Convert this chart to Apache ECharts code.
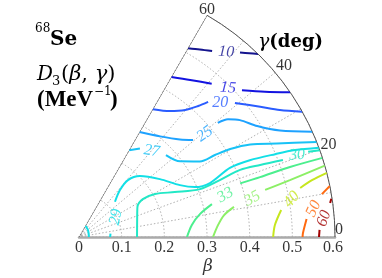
<!DOCTYPE html>
<html><head><meta charset="utf-8">
<script src="https://cdn.jsdelivr.net/npm/echarts@6/dist/echarts.min.js"></script>
<style>html,body{margin:0;padding:0;background:#fff}#c{width:382px;height:278px}</style>
</head><body><div id="c"></div>
<script>
// ---- data: beta / gamma(deg) ----
const BETA_TICKS = [0, 0.1, 0.2, 0.3, 0.4, 0.5, 0.6];
const GAMMA_TICKS = [0, 20, 40, 60];
const BETA_MAX = 0.6, GAMMA_MAX = 60;

// contour pieces: [beta, gamma]
const C10 = [[[0.511,60],[0.523,57.2],[0.536,54.4]], [[0.574,48.9],[0.587,47.2],[0.600,45.6]]];
const C15 = [[[0.433,60],[0.451,54.7],[0.475,49.1]], [[0.514,42.0],[0.553,38.0],[0.600,34.4]]];
const C20 = [[[0.346,60],[0.364,54.2],[0.388,50.1],[0.415,47.7],[0.438,46.3]], [[0.482,40.7],[0.523,35.7],[0.557,32.3],[0.600,29.3]]];
const C25 = [[[0.284,60],[0.303,51.1],[0.329,44.0],[0.351,40.4]], [[0.421,39.4],[0.445,38.3],[0.466,36.0],[0.492,31.9],[0.533,27.9],[0.600,24.3]]];
const C27 = [[[0.235,60],[0.252,55.5]], [[0.280,43.3],[0.296,36.8],[0.334,32.0],[0.372,31.1],[0.410,30.2],[0.456,28.4],[0.513,25.3],[0.600,21.8]]];
const C29 = [[[0.030,60],[0.027,40],[0.024,20],[0.023,0]], [[0.073,0],[0.0742,6.0]], [[0.118,44.4],[0.146,48.9],[0.176,49.3],[0.202,45.0],[0.233,35.6],[0.266,27.2],[0.296,23.3],[0.332,22.4],[0.389,24.6],[0.439,24.2],[0.499,22.9],[0.546,21.9],[0.600,20.4]]];
const C30 = [[[0.136,0],[0.142,16.3],[0.154,27.2],[0.174,30.7],[0.205,29.5],[0.248,25.1],[0.305,21.6],[0.356,22.0],[0.409,22.6],[0.457,21.7],[0.511,20.7]], [[0.573,20.4],[0.600,19.8]]];
const C33 = [[[0.253,0],[0.266,6.1],[0.289,10.8],[0.321,13.9]], [[0.398,18.4],[0.447,18.3],[0.521,18.35],[0.600,18.0]]];
const C35 = [[[0.314,0],[0.327,4.9],[0.344,8.6],[0.370,11.0]], [[0.450,14.2],[0.512,15.1],[0.600,16.2]]];
const C40 = [[[0.455,0],[0.460,3.5],[0.478,7.6]], [[0.531,12.5],[0.562,13.7],[0.600,14.5]]];
const C50 = [[[0.524,0],[0.525,1.0],[0.535,4.5]], [[0.578,10.0],[0.600,11.5]]];
const C60 = [[[0.5625,0],[0.564,1.7]], [[0.594,7.7],[0.598,8.6]]];

const LEVELS = [10, 15, 20, 25, 27, 29, 30, 33, 35, 40, 50, 60];
const CONTOURS = [C10, C15, C20, C25, C27, C29, C30, C33, C35, C40, C50, C60];
// label positions [beta, gamma]
const LABEL_POS = [[0.554,51.5],[0.494,45.0],[0.457,43.6],[0.381,39.3],[0.264,49.8],[0.0985,28.4],[0.546,20.6],[0.357,16.0],[0.416,12.5],[0.506,10.0],[0.554,6.9],[0.576,4.3]];

// ---- styles ----
const COLORS = ['#14148e','#1212e0','#2a5cff','#1ea2ff','#18c2f6','#12dfe6','#22e8c6','#4cef8e','#8cef66','#c6e61e','#ff6a10','#a00000'];
const LABEL_ROT = [-3, -4, 0, 35, -8, 78, 4, 30, 30, 48, 65, 70];
const SERIF = '"Liberation Serif", "DejaVu Serif", serif';
const GRID = {color:'#9c9c9c', width:0.8, type:[1.5,2]};

const series = [];
CONTOURS.forEach((pieces, i) => {
  pieces.forEach(p => series.push({
    type:'line', coordinateSystem:'polar', data:p, showSymbol:false, smooth:0.3,
    lineStyle:{color:COLORS[i], width:2}, silent:true, z:3
  }));
});
series.push({
  type:'scatter', coordinateSystem:'polar', symbolSize:1, itemStyle:{color:'rgba(0,0,0,0)'}, z:4,
  data: LEVELS.map((lv, i) => ({
    value: LABEL_POS[i],
    label:{show:true, position:'inside', formatter:String(lv), rotate:LABEL_ROT[i], color:COLORS[i],
      fontFamily:SERIF, fontStyle:'italic', fontSize:16}
  }))
});
// 60 deg edge (solid)
series.push({type:'line', coordinateSystem:'polar', data:[[0,GAMMA_MAX],[BETA_MAX,GAMMA_MAX]], showSymbol:false,
  lineStyle:{color:'#555', width:1}, silent:true, z:2});
// gamma tick labels on the outer arc
const ANG_OFF = {0:[4,-7], 20:[9,-4.5], 40:[9,-6.5], 60:[0,-6]};
series.push({
  type:'scatter', coordinateSystem:'polar', symbolSize:1, itemStyle:{color:'rgba(0,0,0,0)'}, z:4,
  data: GAMMA_TICKS.map(g => ({value:[BETA_MAX, g], label:{show:true, position:'inside', formatter:String(g),
    offset:ANG_OFF[g], color:'#000', fontFamily:SERIF, fontSize:16}}))
});
// beta tick labels below the gamma = 0 axis
series.push({
  type:'scatter', coordinateSystem:'polar', symbolSize:1, itemStyle:{color:'rgba(0,0,0,0)'}, z:4,
  data: BETA_TICKS.map(b => ({value:[b, 0], label:{show:true, position:'inside', formatter:b === 0 ? '0' : b.toFixed(1),
    offset:[b === BETA_MAX ? -2 : 0, 11], color:'#000', fontFamily:SERIF, fontSize:16}}))
});
// beta axis name
series.push({
  type:'scatter', coordinateSystem:'polar', symbolSize:1, itemStyle:{color:'rgba(0,0,0,0)'}, z:4,
  data:[{value:[BETA_MAX / 2, 0], label:{show:true, position:'inside', formatter:'β', offset:[1,30],
    color:'#000', fontFamily:'"DejaVu Serif", serif', fontStyle:'italic', fontSize:17}}]
});

const option = {
  animation:false, backgroundColor:'#fff',
  polar:{center:[79,237], radius:256},
  angleAxis:{type:'value', min:0, max:GAMMA_MAX, interval:10, startAngle:0, endAngle:60, clockwise:false,
    axisLine:{show:true, lineStyle:{color:'#555', width:1}}, axisTick:{show:false}, axisLabel:{show:false},
    splitLine:{show:true, lineStyle:GRID}},
  radiusAxis:{type:'value', min:0, max:BETA_MAX, interval:0.1,
    axisLine:{show:true, lineStyle:{color:'#aaa', width:2.5}}, axisTick:{show:false},
    axisLabel:{show:false}, splitLine:{show:true, lineStyle:GRID}},
  series: series,
  graphic:[
    {type:'text', x:35, y:29, style:{text:'68', font:'12px "DejaVu Serif"', fill:'#000', textVerticalAlign:'middle'}},
    {type:'text', x:50, y:40, style:{text:'Se', font:'bold 20px "DejaVu Serif"', fill:'#000', textVerticalAlign:'middle'}},
    {type:'text', x:37, y:75, style:{text:'D', font:'italic 20px "DejaVu Serif"', fill:'#000', textVerticalAlign:'middle'}},
    {type:'text', x:52, y:82, style:{text:'3', font:'13px "DejaVu Serif"', fill:'#000', textVerticalAlign:'middle'}},
    {type:'text', x:61, y:75, style:{text:'{n|(}{i|β}{n|, }{i|γ}{n|)}', fill:'#000', textVerticalAlign:'middle',
      rich:{n:{font:'21px "DejaVu Serif"', fill:'#000'}, i:{font:'italic 21px "DejaVu Serif"', fill:'#000'}}}},
    {type:'text', x:37, y:100, style:{text:'(MeV', font:'bold 23px "Liberation Serif"', fill:'#000', textVerticalAlign:'middle'}},
    {type:'text', x:94, y:92, style:{text:'−1', font:'12px "DejaVu Serif"', fill:'#000', textVerticalAlign:'middle'}},
    {type:'text', x:110, y:100, style:{text:')', font:'bold 23px "Liberation Serif"', fill:'#000', textVerticalAlign:'middle'}},
    {type:'text', x:258, y:42, style:{text:'{i|γ}{b|(deg)}', fill:'#000', textVerticalAlign:'middle',
      rich:{i:{font:'italic 19px "DejaVu Serif"', fill:'#000'}, b:{font:'bold 18px "DejaVu Serif"', fill:'#000'}}}}
  ]
};
const chart = echarts.init(document.getElementById('c'), null, {renderer:'canvas'});
chart.setOption(option);
</script></body></html>
